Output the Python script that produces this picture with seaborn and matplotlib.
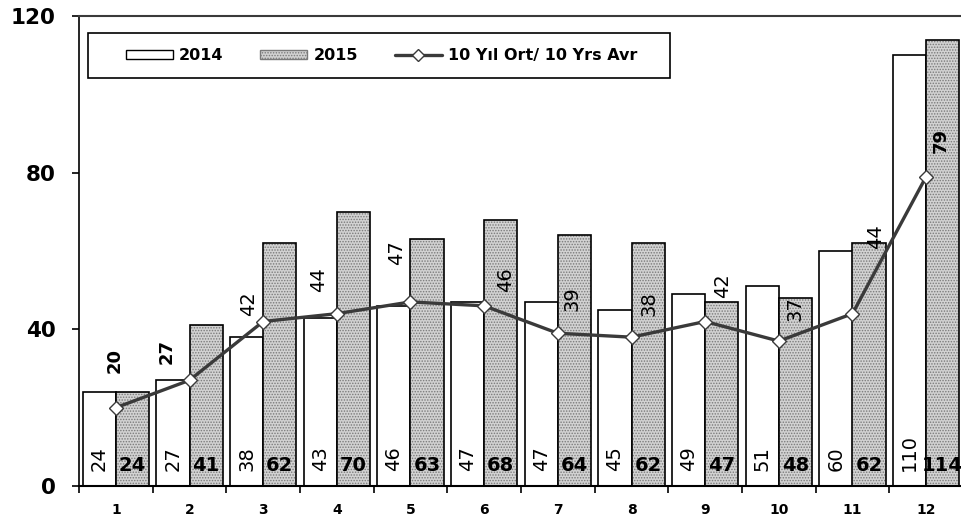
import numpy as np
import pandas as pd
import matplotlib
matplotlib.use("Agg")
import matplotlib.pyplot as plt
from matplotlib.patches import Patch, Rectangle
from matplotlib.lines import Line2D
import seaborn as sns

# Data
months = ["1", "2", "3", "4", "5", "6", "7", "8", "9", "10", "11", "12"]
vals_2014 = [24, 27, 38, 43, 46, 47, 47, 45, 49, 51, 60, 110]
vals_2015 = [24, 41, 62, 70, 63, 68, 64, 62, 47, 48, 62, 114]
avg_10yr = [20, 27, 42, 44, 47, 46, 39, 38, 42, 37, 44, 79]
series_names = ["2014", "2015", "10 Yıl Ort/ 10 Yrs Avr"]
y_ticks = [0, 40, 80, 120]

# where each average label sits relative to its point (pixels, image coords)
avg_label_off = [(-1, -47), (-23, -29), (-15, -18), (-18, -34), (-14, -49), (21, -26),
                 (14, -35), (18, -34), (17, -36), (16, -32), (23, -77), (15, -36)]
avg_label_bold = [True, True, False, False, False, False,
                  False, False, False, False, False, True]

sns.set_style("white")
plt.rcParams['font.family'] = ['DejaVu Sans']
plt.rcParams['text.color'] = 'black'
plt.rcParams['xtick.color'] = 'black'
plt.rcParams['ytick.color'] = 'black'
plt.rcParams['hatch.linewidth'] = 0.7

df = pd.DataFrame({
    "month": months * 2,
    "value": vals_2014 + vals_2015,
    "year": [series_names[0]] * 12 + [series_names[1]] * 12,
})

fig = plt.figure(figsize=(9.62, 5.25), dpi=100)
ax = fig.add_axes([79 / 962, 39 / 525, 884 / 962, 470 / 525])

gray_face = "#d2d2d2"
hatch_col = "#7a7a7a"
sns.barplot(data=df, x="month", y="value", hue="year", palette=["white", gray_face],
            edgecolor="black", linewidth=1.2, width=0.9, saturation=1,
            legend=False, ax=ax)

# stipple the 2015 bars, then redraw a black outline on top
for p in ax.containers[1]:
    p.set_hatch("......")
    p.set_edgecolor(hatch_col)
    p.set_linewidth(0)
    ax.add_patch(Rectangle(p.get_xy(), p.get_width(), p.get_height(), fill=False,
                           edgecolor="black", linewidth=1.2, zorder=p.get_zorder() + 0.1))

# 10 year average line
sns.lineplot(x=np.arange(len(months)), y=avg_10yr, color="#3a3a3a", linewidth=2.4,
             marker="D", markersize=7.5, markerfacecolor="white",
             markeredgecolor="#3a3a3a", markeredgewidth=1.0, ax=ax, zorder=5)

# bar labels
for p, v in zip(ax.containers[0], vals_2014):
    ax.annotate(str(v), (p.get_x() + p.get_width() / 2, 0), xytext=(0, 11),
                textcoords="offset points", rotation=90, ha="center", va="bottom",
                fontsize=14, zorder=6)
for p, v in zip(ax.containers[1], vals_2015):
    ax.annotate(str(v), (p.get_x() + p.get_width() / 2, 0), xytext=(0, 8),
                textcoords="offset points", ha="center", va="bottom",
                fontsize=14, fontweight="bold", zorder=6)

# average labels
for i, v in enumerate(avg_10yr):
    dx, dy = avg_label_off[i]
    bold = avg_label_bold[i]
    ax.annotate(str(v), (i, v), xytext=(dx * 0.72, -dy * 0.72),
                textcoords="offset points", rotation=90, ha="center", va="center",
                fontsize=13 if bold else 14, fontweight="bold" if bold else "normal",
                zorder=7)

# axes styling
ax.set_xlim(-0.5, len(months) - 0.5)
ax.set_ylim(0, 120)
ax.set_yticks(y_ticks)
ax.set_xticks(np.arange(len(months)), months)
ax.set_xticks(np.arange(-0.5, len(months), 1), minor=True)
ax.set_xlabel("")
ax.set_ylabel("")
ax.tick_params(axis="x", which="major", length=0, pad=12, labelsize=10)
ax.tick_params(axis="x", which="minor", length=5, width=1.2, direction="out",
               color="black", bottom=True)
ax.tick_params(axis="y", length=5, width=1.2, direction="out", color="black",
               left=True, pad=12, labelsize=15.5)
for lab in ax.get_xticklabels() + ax.get_yticklabels():
    lab.set_fontweight("bold")

ax.spines["left"].set_color("black")
ax.spines["left"].set_linewidth(1.2)
ax.spines["bottom"].set_color("black")
ax.spines["bottom"].set_linewidth(1.5)
ax.spines["top"].set_color("#3a3a3a")
ax.spines["top"].set_linewidth(1.5)
ax.spines["right"].set_visible(False)

# legend: entries without frame, frame drawn as a box in axes fraction
handles = [
    Patch(facecolor="white", edgecolor="black", linewidth=1.0),
    Patch(facecolor=gray_face, edgecolor=hatch_col, hatch="......", linewidth=1.0),
    Line2D([0], [0], color="#3a3a3a", linewidth=2.4, marker="D", markersize=6,
           markerfacecolor="white", markeredgecolor="#3a3a3a"),
]
leg = ax.legend(handles, series_names, loc="center left", bbox_to_anchor=(0.0532, 0.916),
                ncol=3, frameon=False, borderpad=0, borderaxespad=0,
                handlelength=2.95, handleheight=0.5, handletextpad=0.37,
                columnspacing=2.3, prop={"weight": "bold", "size": 11.5})
for t in leg.get_texts():
    t.set_fontweight("bold")
leg.set_zorder(10)
ax.add_patch(Rectangle((0.0102, 0.868), 0.658, 0.0957, transform=ax.transAxes,
                       facecolor="white", edgecolor="black", linewidth=1.2, zorder=9))

fig.savefig("out.png", dpi=100)
